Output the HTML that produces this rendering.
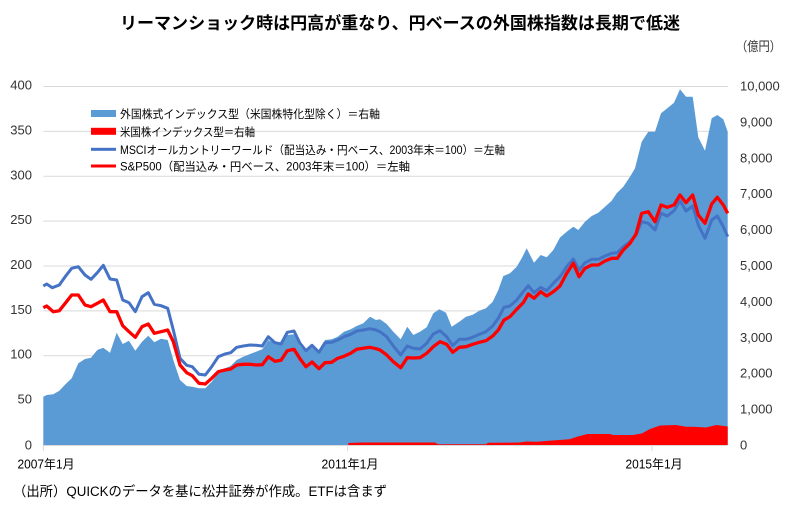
<!DOCTYPE html>
<html><head><meta charset="utf-8"><style>
html,body{margin:0;padding:0;background:#fff;}
svg{display:block;}
text{font-family:"Liberation Sans","Noto Sans CJK JP",sans-serif;}
</style></head><body>
<svg width="794" height="521" viewBox="0 0 794 521" xmlns="http://www.w3.org/2000/svg">
<rect width="794" height="521" fill="#fff"/>
<text x="120" y="29" font-size="17" font-weight="bold" fill="#000" textLength="560" lengthAdjust="spacingAndGlyphs">リーマンショック時は円高が重なり、円ベースの外国株指数は長期で低迷</text>
<text x="736" y="51" font-size="13" fill="#333" textLength="45" lengthAdjust="spacingAndGlyphs">（億円）</text>
<g stroke="#D9D9D9" stroke-width="1">
<line x1="43.3" x2="727.7" y1="86.5" y2="86.5"/>
<line x1="43.3" x2="727.7" y1="131.4" y2="131.4"/>
<line x1="43.3" x2="727.7" y1="176.3" y2="176.3"/>
<line x1="43.3" x2="727.7" y1="221.1" y2="221.1"/>
<line x1="43.3" x2="727.7" y1="266" y2="266"/>
<line x1="43.3" x2="727.7" y1="310.9" y2="310.9"/>
<line x1="43.3" x2="727.7" y1="355.7" y2="355.7"/>
<line x1="43.3" x2="727.7" y1="400.6" y2="400.6"/>
</g>
<g font-size="13" fill="#333" text-anchor="end">
<text x="32" y="89.5">400</text><text x="32" y="134.4">350</text><text x="32" y="179.3">300</text><text x="32" y="224.1">250</text><text x="32" y="269">200</text><text x="32" y="313.9">150</text><text x="32" y="358.7">100</text><text x="32" y="403.6">50</text><text x="32" y="449.5">0</text>
</g>
<g font-size="13" fill="#333">
<text x="740" y="90.5">10,000</text><text x="740" y="126.4">9,000</text><text x="740" y="162.3">8,000</text><text x="740" y="198.2">7,000</text><text x="740" y="234.1">6,000</text><text x="740" y="270">5,000</text><text x="740" y="305.9">4,000</text><text x="740" y="341.8">3,000</text><text x="740" y="377.7">2,000</text><text x="740" y="413.6">1,000</text><text x="740" y="449.5">0</text>
</g>
<polygon fill="#5B9BD5" points="43.3,445 43.3,396.7 46.7,395 53.3,394.3 59.3,390.7 65.7,384 71.7,378.3 78.3,363.3 85,359 91,357.7 97.3,350 103.3,347.7 110,352.7 116.7,332.7 122.7,344 129,340.7 135.3,350.7 142,341.7 148.3,335.7 154.3,342.3 161,338.7 167.7,340 173.3,360 180,380 186.7,386 192.3,386.7 199,388.3 205.3,388.3 211.7,381.7 218.3,373.3 225,368.3 230.7,366 236.7,360 243.3,356.7 250,354 256,351.7 262.3,349.3 268.3,340 275,343.3 281,345 287.3,335 294,334.3 300,346 306,351.7 312,347.3 319,354 325,340 331.7,339.3 337.7,336.7 344,331.7 350.7,329.3 356.7,326 363.3,323.3 370,316.7 376,320 380,319.3 386.7,324 393.3,331.7 400.7,339.3 407.3,326.7 413.3,335 420,331.7 426.7,327.3 433.3,313.3 439.3,309.3 446,312.7 451.7,326.7 459.3,321.7 466,316.7 472.7,314.7 479.3,310.7 486,308.3 492.7,301.7 498.3,290 503.3,276 510,273.3 516.7,266.7 521.7,258.3 526.7,248.3 534,262.7 540.7,255 546.7,257.3 553.3,250 560,237.5 566.7,231.7 573.3,226.7 578.3,230 585,221.7 591.7,216 598.3,212.7 605,206.7 611.7,200.7 616.7,193.3 623.3,186.7 630,176.7 635,168.3 641.7,141.7 648.3,131.7 655,131.7 661,113.3 667.3,108.3 674,102.7 680,89.3 686,96.7 692.7,96.7 698.3,137.3 705,150.7 711.7,118.3 717.3,115 723.3,119.3 727.7,131.7 727.7,445"/>
<polygon fill="#FF0000" points="348.3,445 348.3,443 362,442.5 435,442.5 438,444.3 486,444.3 488,442.7 519,442.5 526.5,441.5 536.7,441.7 549,440.7 569.5,439.3 577,436.7 587.4,434 610,434 613,435 633,435 641.7,433.5 650,429 660,425.5 676,425 686,426.7 693,426.7 706,427.5 716.5,425 727.7,426.5 727.7,445"/>
<line x1="43.3" x2="727.7" y1="445.5" y2="445.5" stroke="#D9D9D9" stroke-width="1"/>
<g stroke="#D9D9D9" stroke-width="1">
<line x1="43.3" x2="43.3" y1="445" y2="451"/>
<line x1="347.7" x2="347.7" y1="445" y2="451"/>
<line x1="652" x2="652" y1="445" y2="451"/>
</g>
<polyline fill="none" stroke="#4472C4" stroke-width="3" stroke-linejoin="round" points="43.3,286 46.7,284 52.3,287.7 59.3,285 65.7,276 71.7,268.3 78.3,266.7 85,275 91,279.3 97.3,272.7 103.3,265.3 110,279 116.7,280 122.7,300 129,302.7 135.3,311.7 142,296.7 148.3,292.7 154.3,304.3 161,305.7 167.7,308.3 173.3,330 180,358.3 186.7,365.3 192.3,366.7 199,374.3 205.3,375 211.7,366.7 218.3,356.7 225,354 230.7,352.7 236.7,347.3 243.3,346 250,345 256,345.3 262.3,346 268.3,336.7 275,342.7 281,344 287.3,332.3 294,331 300,343.3 306,350.7 312,345.3 319,352.3 325,342.7 331.7,342.3 337.7,340 344,336.7 350.7,334.3 356.7,331 363.3,330 370,328.7 376,330 380,331.7 386.7,336.7 393.3,346 400.7,355 407.3,346 413.3,348.3 420,349 426.7,343.3 433.3,334 440,330.7 446.7,336.7 452.7,345.7 459.3,339.3 466,339.3 472.7,337.3 479.3,334.3 486,331.7 492.7,326 498.3,318.3 504,307.3 510,306 516.7,300 523.3,291.7 528.3,285.7 534,292.7 540.7,287.3 546.7,290.7 553.3,283.3 560,276.7 566.7,266.7 573.3,259 579,270 585,262.7 591.7,259.3 598.3,259.3 605,256 611.7,253.3 617.3,252.7 623.3,246.7 630,241.7 636,235 641.7,221.7 648.3,223.3 655,230 661,213.3 667.3,216 674,210.7 680,200.7 686,211 692.7,206 698.3,225 705,238.3 711.7,220 717.3,216 723.3,226.7 727.7,236.7"/>
<polyline fill="none" stroke="#FF0000" stroke-width="3.3" stroke-linejoin="round" points="43.3,307.7 46.7,306 53.3,311.7 59.3,310.7 65.7,302.7 71.7,295 78.3,295 85,305 91,306.7 97.3,303.3 103.3,300 110,311.7 116.7,311.7 122.7,325.7 129,331.7 135.3,337.3 142,326.7 148.3,324 154.3,333.3 161,331.7 167.7,330 173.3,341.7 180,365 186.7,372.7 192.3,375.7 199,383.3 205.3,384 211.7,378.3 218.3,371.7 225,370 230.7,369 236.7,365 243.3,364.3 250,364.3 256,365 262.3,364.7 268.3,356.7 275,361.3 281,360.3 287.3,350.7 294,349.3 300,358.7 306,366.7 312,362 319,368.7 325,362.7 331.7,362.3 337.7,358.3 344,356.3 350.7,353.3 356.7,349.3 363.3,348.3 370,347.3 376,348.7 380,350 386.7,355 393.3,361.7 400.7,367.7 407.3,357.7 413.3,358 420,357.7 426.7,353.3 433.3,346.7 440,341.7 446.7,344.3 452.7,352.3 459.3,347.3 466,346.7 472.7,344.3 479.3,342.3 486,340.7 492.7,336 498.3,330 504,320 510,316.7 516.7,309.3 523.3,302.7 528.3,294 534,298.3 540.7,291.7 546.7,296 553.3,291.7 560,286 566.7,273.3 573.3,263.3 579,276.7 585,268.3 591.7,265 598.3,265 605,261 611.7,258.3 617.3,258.3 623.3,250 630,243.3 636,234 641.7,213.3 648.3,211.7 655,221.7 661,205 667.3,207.3 674,205 680,195 686,202.7 692.7,195 698.3,215 705,223.3 711.7,204 717.3,197.3 723.3,205 727.7,213.3"/>
<rect x="91" y="110" width="25" height="7" fill="#5B9BD5"/>
<rect x="91" y="127.8" width="25" height="7" fill="#FF0000"/>
<rect x="91" y="147.8" width="25" height="3" fill="#4472C4"/>
<rect x="91" y="164.5" width="25" height="3" fill="#FF0000"/>
<g font-size="11.5" fill="#000">
<text x="120" y="118" textLength="260" lengthAdjust="spacingAndGlyphs">外国株式インデックス型（米国株特化型除く）＝右軸</text>
<text x="120" y="135.8" textLength="135" lengthAdjust="spacingAndGlyphs">米国株インデックス型＝右軸</text>
<text x="120" y="153.8" textLength="385" lengthAdjust="spacingAndGlyphs">MSCIオールカントリーワールド（配当込み・円ベース、2003年末＝100）＝左軸</text>
<text x="120" y="170.5" textLength="290" lengthAdjust="spacingAndGlyphs">S&amp;P500（配当込み・円ベース、2003年末＝100）＝左軸</text>
</g>
<g font-size="12.5" fill="#000" text-anchor="middle">
<text x="46" y="468.5" textLength="57" lengthAdjust="spacingAndGlyphs">2007年1月</text>
<text x="350" y="468.5" textLength="57" lengthAdjust="spacingAndGlyphs">2011年1月</text>
<text x="654" y="468.5" textLength="57" lengthAdjust="spacingAndGlyphs">2015年1月</text>
</g>
<text x="13" y="496" font-size="13.5" fill="#000" textLength="374" lengthAdjust="spacingAndGlyphs">（出所）QUICKのデータを基に松井証券が作成。ETFは含まず</text>
</svg>
</body></html>
